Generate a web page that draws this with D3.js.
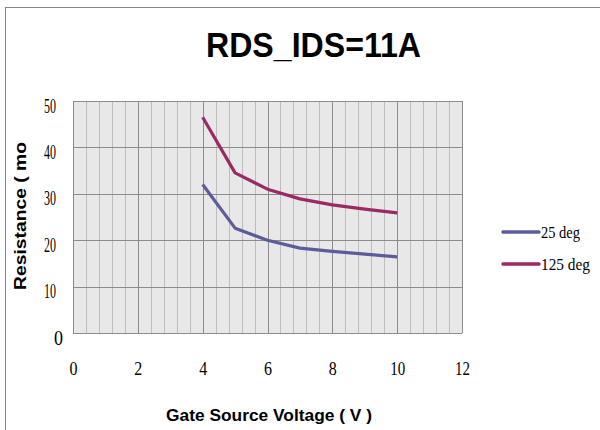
<!DOCTYPE html>
<html><head><meta charset="utf-8">
<script src="https://cdn.jsdelivr.net/npm/d3@7"></script>
<style>body{margin:0;background:#fff}svg{display:block}</style>
</head><body>
<script>
const title = "RDS_IDS=11A";
const xLabel = "Gate Source Voltage ( V )";
const yLabel = "Resistance ( mo";
const voltage = [4, 5, 6, 7, 8, 9, 10];
const res25 = [32.0, 22.6, 20.0, 18.3, 17.6, 17.0, 16.4];
const res125 = [46.5, 34.5, 31.0, 28.9, 27.6, 26.7, 25.9];
const seriesNames = ["25 deg", "125 deg"];
const seriesColors = ["#5c5c9c", "#9b2963"];
const xTicks = [0, 2, 4, 6, 8, 10, 12];
const yTicks = [0, 10, 20, 30, 40, 50];

const W = 600, H = 430;
const svg = d3.select("body").append("svg").attr("width", W).attr("height", H);

// outer frame
svg.append("rect").attr("x", 5.5).attr("y", 7.5).attr("width", 620).attr("height", 440)
  .attr("fill", "none").attr("stroke", "#888").attr("stroke-width", 1);

const x = d3.scaleLinear().domain([0, 12]).range([73, 462]);
const y = d3.scaleLinear().domain([0, 50]).range([333, 101]);

const g = svg.append("g");
g.append("rect").attr("x", x(0)).attr("y", y(50)).attr("width", x(12) - x(0)).attr("height", y(0) - y(50))
  .attr("fill", "#e8e8e8");

// minor vertical grid every 0.4
const minor = d3.range(0, 12.001, 0.4).filter(v => Math.abs(v / 2 - Math.round(v / 2)) > 1e-6);
g.selectAll(".minor").data(minor).join("line")
  .attr("x1", d => Math.round(x(d)) + 0.5).attr("x2", d => Math.round(x(d)) + 0.5)
  .attr("y1", y(50)).attr("y2", y(0)).attr("stroke", "#bdbdbd").attr("stroke-width", 1);
// major vertical grid
g.selectAll(".majx").data(xTicks).join("line")
  .attr("x1", d => Math.round(x(d)) + 0.5).attr("x2", d => Math.round(x(d)) + 0.5)
  .attr("y1", y(50)).attr("y2", y(0)).attr("stroke", "#8c8c8c").attr("stroke-width", 1);
// horizontal grid
g.selectAll(".majy").data(yTicks).join("line")
  .attr("x1", x(0)).attr("x2", x(12))
  .attr("y1", d => Math.round(y(d)) + 0.5).attr("y2", d => Math.round(y(d)) + 0.5)
  .attr("stroke", "#8c8c8c").attr("stroke-width", 1);

// axes labels via d3 axes (no lines)
const yAxis = svg.append("g").attr("transform", `translate(${x(0) - 17},0)`)
  .call(d3.axisLeft(y).tickValues(yTicks).tickSize(0).tickPadding(0));
yAxis.select(".domain").remove();
yAxis.selectAll("text").attr("font-family", "Liberation Serif").attr("font-size", 20)
  .attr("fill", "#000").attr("dy", "0.55em").attr("dx", d => d === 0 ? 7 : 0)
  .attr("textLength", d => d >= 10 ? 12 : 9).attr("lengthAdjust", "spacingAndGlyphs");

const xAxis = svg.append("g").attr("transform", `translate(0,${y(0) + 28})`)
  .call(d3.axisBottom(x).tickValues(xTicks).tickSize(0).tickPadding(0));
xAxis.select(".domain").remove();
xAxis.selectAll("text").attr("font-family", "Liberation Serif").attr("font-size", 19)
  .attr("fill", "#000").attr("textLength", d => d >= 10 ? 15 : 8).attr("lengthAdjust", "spacingAndGlyphs");

// lines
const series = [res25, res125];
const line = d3.line().x((d, i) => x(voltage[i])).y(d => y(d));
series.forEach((s, k) => {
  svg.append("path").datum(s).attr("d", line).attr("fill", "none")
    .attr("stroke", seriesColors[k]).attr("stroke-width", 3.2).attr("stroke-linejoin", "round");
});

// title
svg.append("text").attr("x", 206).attr("y", 57).attr("font-family", "Liberation Sans")
  .attr("font-weight", "bold").attr("font-size", 35).attr("textLength", 215)
  .attr("lengthAdjust", "spacingAndGlyphs").text(title);

// x title
svg.append("text").attr("x", 166).attr("y", 421).attr("font-family", "Liberation Sans")
  .attr("font-weight", "bold").attr("font-size", 17).attr("textLength", 206)
  .attr("lengthAdjust", "spacingAndGlyphs").text(xLabel);

// y title
svg.append("text").attr("transform", "translate(26,290) rotate(-90)").attr("font-family", "Liberation Sans")
  .attr("font-weight", "bold").attr("font-size", 17).attr("textLength", 148)
  .attr("lengthAdjust", "spacingAndGlyphs").text(yLabel);

// legend
const legY = [232, 264];
seriesNames.forEach((n, k) => {
  svg.append("line").attr("x1", 503).attr("x2", 539).attr("y1", legY[k]).attr("y2", legY[k])
    .attr("stroke", seriesColors[k]).attr("stroke-width", 3.5).attr("stroke-linecap", "round");
  svg.append("text").attr("x", 541).attr("y", legY[k] + 6).attr("font-family", "Liberation Serif")
    .attr("font-size", 17).attr("textLength", k === 0 ? 39 : 49).attr("lengthAdjust", "spacingAndGlyphs")
    .text(n);
});
</script>
</body></html>
